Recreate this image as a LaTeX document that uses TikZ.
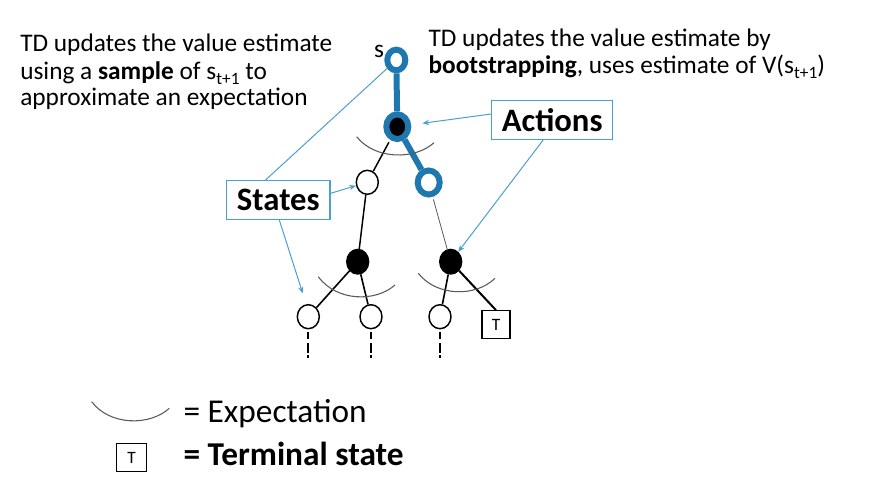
\documentclass[tikz,border=0pt]{standalone}
\usepackage{fontspec}
\setmainfont{Carlito}
\usepackage{tikz}
\usetikzlibrary{shapes.geometric,arrows.meta,positioning,calc}
\definecolor{ringblue}{RGB}{31,119,175}
\definecolor{calloutblue}{RGB}{75,160,205}
\definecolor{arcgray}{RGB}{90,90,90}
\newcommand{\lowsub}[1]{\raisebox{-4pt}{\fontsize{13}{13}\selectfont #1}}
\tikzset{
  state/.style={ellipse, draw, line width=1.1pt, fill=white, inner sep=0pt, minimum width=16.5pt, minimum height=18pt},
  action/.style={ellipse, draw, fill=black, line width=1pt, inner sep=0pt, minimum width=16.5pt, minimum height=18.5pt},
  hot/.style={draw=ringblue, line width=4.5pt},
  term/.style={draw, line width=0.8pt, inner sep=0pt, minimum width=21pt, minimum height=21pt, font=\fontsize{13}{13}\selectfont},
  callout/.style={draw=calloutblue, line width=0.9pt, inner sep=0pt, minimum height=29pt, font=\fontsize{24.5}{24.5}\selectfont\bfseries},
  pointer/.style={calloutblue, line width=0.75pt, -{Stealth[length=5pt,width=4pt]}},
  expect/.style={arcgray, line width=0.8pt},
  stub/.style={line width=1.4pt, shorten <=2pt, dash pattern=on 5pt off 3.5pt on 7.5pt off 1.5pt on 2.25pt},
  txt/.style={font=\fontsize{19}{20.25}\selectfont, align=left, inner sep=0pt},
  legend/.style={font=\fontsize{25}{25}\selectfont, inner sep=0pt, anchor=base west}
}
\begin{document}
\begin{tikzpicture}[x=0.75pt, y=-0.75pt]
\path[use as bounding box, fill=white] (0,0) rectangle (886,485);

% text (anchored at the baseline of the last line)
\node[txt, anchor=base west] (left) at (20,106) {TD updates the value estimate\\using a \textbf{sample} of s\lowsub{t+1} to\\approximate an expectation};
\node[txt, anchor=base west] (right) at (428.3,73.3) {TD updates the value estimate by\\\textbf{bootstrapping}, uses estimate of V(s\lowsub{t+1})};

% tree nodes
\node[state, hot, minimum width=13.5pt, minimum height=15.5pt] (root) at (396.3,60) {};
\node[txt, anchor=base] (slabel) at (379,57.7) {s};
\node[action, hot] (a0) at (397.3,126.7) {};
\node[state] (s1) at (367.3,182.3) {};
\node[state, hot] (s2) at (428.7,182.5) {};
\node[action] (a1) at (357.7,261.7) {};
\node[action] (a2) at (450.7,261.7) {};
\node[state] (l1) at (308.3,316.7) {};
\node[state] (l2) at (371,316.7) {};
\node[state] (l3) at (440,316.7) {};
\node[term] (T) at (496,324.7) {T};

% edges
\draw[ringblue, line width=4.5pt] (root) -- (a0);
\draw[ringblue, line width=4.5pt] (a0) -- (s2);
\draw[line width=1.1pt, shorten <=2pt] (a0) -- (s1);
\draw[line width=1.1pt] (s1) -- (a1);
\draw[arcgray, line width=0.6pt, shorten <=2pt] (s2) -- (a2);
\draw[line width=1.2pt] (a1) -- (l1);
\draw[line width=1.2pt] (a1) -- (l2);
\draw[line width=1.2pt] (a2) -- (l3);
\draw[line width=1.5pt] (a2) -- (T.north);

% expectations
\draw[expect] (356.7,136.7) .. controls (375,160) and (415,160) .. (434,142.7);
\draw[expect] (318.3,276.7) .. controls (337,302) and (376,302) .. (395,285);
\draw[expect] (418.3,273.3) .. controls (437,297) and (476,297) .. (495,278.3);

% unexpanded branches
\coordinate[below=21.75pt of l1] (e1);
\coordinate[below=21.75pt of l2] (e2);
\coordinate[below=21.75pt of l3] (e3);
\draw[stub] (l1.south) -- (e1);
\draw[stub] (l2.south) -- (e2);
\draw[stub] (l3.south) -- (e3);

% callouts
\node[callout, minimum width=90.75pt] (ac) at (552.2,120) {Actions};
\node[callout, minimum width=77.5pt] (st) at (278.3,200) {States};
\coordinate (p1) at (302.7,293.3);
\draw[calloutblue, line width=0.75pt] ([xshift=-9.6pt]st.north) -- (root);
\draw[pointer] ([yshift=5pt]st.east) -- (s1);
\draw[pointer] ([xshift=0.75pt]st.south) -- (p1);
\draw[pointer, shorten >=8.5pt] ([yshift=4.5pt]ac.west) -- (a0);
\draw[pointer] ([xshift=-6.75pt]ac.south) -- (a2);

% legend
\draw[expect] (91.7,401.7) .. controls (110,426) and (150,426) .. (169.3,408.3);
\node[legend] (lexp) at (183.3,422.7) {= Expectation};
\node[term, minimum width=22.5pt] (lT) at (131.7,457.5) {T};
\node[legend] (lterm) at (183.3,465) {\bfseries = Terminal state};
\end{tikzpicture}
\end{document}
